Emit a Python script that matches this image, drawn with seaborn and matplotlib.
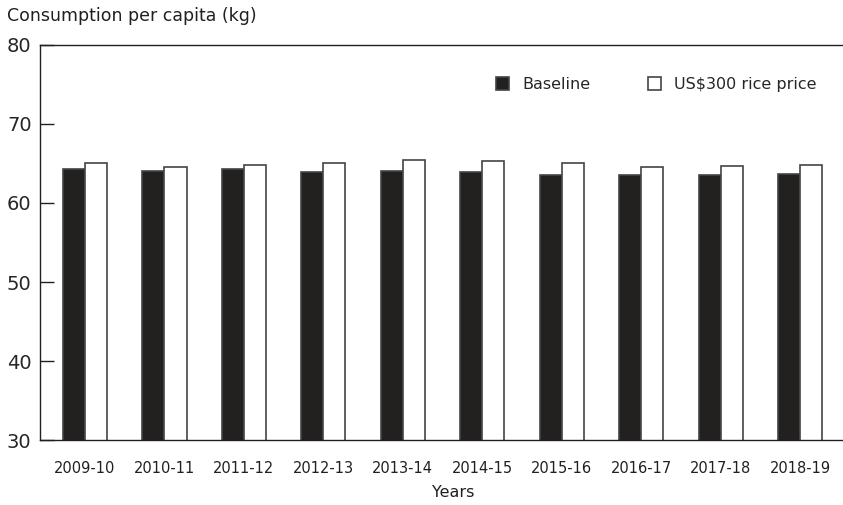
import matplotlib
matplotlib.use("Agg")
import matplotlib.pyplot as plt
import pandas as pd
import seaborn as sns

years = ["2009-10", "2010-11", "2011-12", "2012-13", "2013-14",
         "2014-15", "2015-16", "2016-17", "2017-18", "2018-19"]
baseline = [64.3, 64.1, 64.3, 63.9, 64.05, 63.95, 63.6, 63.5, 63.5, 63.7]
rice_300 = [65.0, 64.5, 64.8, 65.05, 65.4, 65.35, 65.05, 64.6, 64.65, 64.8]
series = ["Baseline", "US$300 rice price"]

df = pd.DataFrame({
    "Years": years * 2,
    "value": baseline + rice_300,
    "scenario": [series[0]] * len(years) + [series[1]] * len(years),
})

sns.set_style("white")
plt.rcParams["font.family"] = ["DejaVu Sans"]

fig = plt.figure(figsize=(8.43, 5.05), dpi=100)
ax = fig.add_axes([0.0474, 0.1287, 0.9526, 0.7822])

sns.barplot(data=df, x="Years", y="value", hue="scenario", order=years,
            hue_order=series, palette={series[0]: "#231f20", series[1]: "white"},
            width=0.555, gap=0.0, edgecolor="#444444", linewidth=1.2, ax=ax)

ax.set_ylim(30, 80)
ax.set_xlim(-0.567, 9.54)
ax.set_yticks([30, 40, 50, 60, 70, 80])
ax.tick_params(axis="y", direction="in", length=10, width=1, labelsize=14,
               left=True, pad=6, color="#231f20")
ax.tick_params(axis="x", length=0, labelsize=10.5, pad=15, labelcolor="#231f20")
for side in ["left", "top", "bottom"]:
    ax.spines[side].set_visible(True)
    ax.spines[side].set_color("#231f20")
    ax.spines[side].set_linewidth(1)
ax.spines["right"].set_visible(False)

ax.set_xlabel("Years", fontsize=11.5, color="#231f20")
ax.xaxis.set_label_coords(0.515, -0.113)
ax.set_ylabel("")
fig.text(0.008, 0.968, "Consumption per capita (kg)", fontsize=12.5,
         va="center", color="#231f20")

handles, labels = ax.get_legend_handles_labels()
ax.legend(handles, labels, ncol=2, frameon=False, loc="upper right",
          bbox_to_anchor=(0.985, 0.955), fontsize=11.5, handlelength=0.85,
          handleheight=0.85, columnspacing=3.6, handletextpad=0.8)

fig.savefig("out.png", dpi=100)
